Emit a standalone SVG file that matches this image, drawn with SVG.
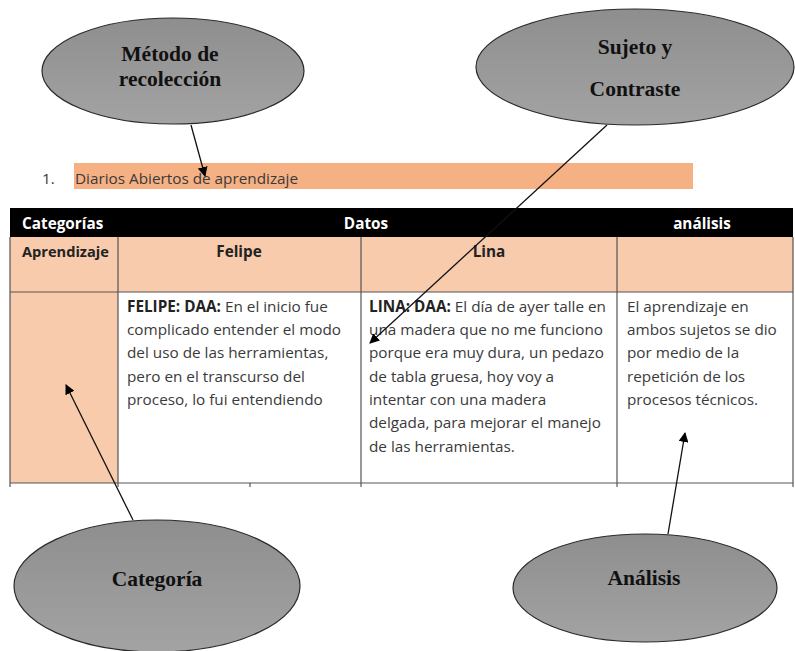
<svg xmlns="http://www.w3.org/2000/svg" width="795" height="651" viewBox="0 0 795 651">
<defs>
<linearGradient id="gray" x1="0" y1="0" x2="0" y2="1">
<stop offset="0" stop-color="#8e8e8e"/>
<stop offset="1" stop-color="#a3a3a3"/>
</linearGradient>
<marker id="ah" markerWidth="10" markerHeight="10" refX="9" refY="5" orient="auto" markerUnits="userSpaceOnUse">
<path d="M0,0 L10,5 L0,10 z" fill="#000"/>
</marker>
</defs>
<style>
.ell{fill:url(#gray);stroke:#2a2a2a;stroke-width:1.2}
.et{font-family:"Liberation Serif","Times New Roman",serif;font-weight:bold;font-size:21.5px;fill:#111;text-anchor:middle}
.t{font-family:"Open Sans","Noto Sans",sans-serif;font-size:15.3px;fill:#3a3a3a}
.b{font-weight:bold;fill:#222}
.hd{font-family:"Open Sans","Noto Sans",sans-serif;font-size:15.3px;font-weight:bold;fill:#fff}
.cell{fill:#f8cbad}
.grid{stroke:#555;stroke-width:1.2;fill:none}
.conn{stroke:#111;stroke-width:1.3;fill:none;marker-end:url(#ah)}
</style>
<rect width="795" height="651" fill="#fff"/>

<g id="bar">
<rect x="74" y="163" width="619" height="26" fill="#f5b184"/>
<text class="t" x="42" y="184">1.</text>
<text class="t" x="75" y="184">Diarios Abiertos de aprendizaje</text>
</g>

<g id="table">
<rect x="10" y="208" width="783" height="29" fill="#000"/>
<rect class="cell" x="10" y="237" width="783" height="55"/>
<rect class="cell" x="10" y="292" width="108" height="191"/>
<text class="hd" x="22" y="229">Categorías</text>
<text class="hd" x="366" y="229" text-anchor="middle">Datos</text>
<text class="hd" x="702" y="229" text-anchor="middle">análisis</text>
<text class="t b" x="22" y="257" style="font-size:14.6px">Aprendizaje</text>
<text class="t b" x="239" y="257" text-anchor="middle">Felipe</text>
<text class="t b" x="489" y="257" text-anchor="middle">Lina</text>
<path class="grid" d="M10,237 V487 M118,237 V487 M361,237 V487 M617,237 V487 M793,237 V487 M10,292 H793 M10,483 H793 M250,483 V487"/>
<g class="t">
<text x="127" y="312"><tspan class="b">FELIPE: DAA:</tspan> En el inicio fue</text>
<text x="127" y="335">complicado entender el modo</text>
<text x="127" y="358">del uso de las herramientas,</text>
<text x="127" y="382">pero en el transcurso del</text>
<text x="127" y="405">proceso, lo fui entendiendo</text>
<text x="369" y="312"><tspan class="b">LINA: DAA:</tspan> El día de ayer talle en</text>
<text x="369" y="335">una madera que no me funciono</text>
<text x="369" y="358">porque era muy dura, un pedazo</text>
<text x="369" y="382">de tabla gruesa, hoy voy a</text>
<text x="369" y="405">intentar con una madera</text>
<text x="369" y="428">delgada, para mejorar el manejo</text>
<text x="369" y="452">de las herramientas.</text>
<text x="627" y="312">El aprendizaje en</text>
<text x="627" y="335">ambos sujetos se dio</text>
<text x="627" y="358">por medio de la</text>
<text x="627" y="382">repetición de los</text>
<text x="627" y="405">procesos técnicos.</text>
</g>
</g>

<g id="connectors">
<line class="conn" x1="191" y1="125" x2="205" y2="176"/>
<line class="conn" x1="607" y1="125" x2="370" y2="343"/>
<line class="conn" x1="133" y1="520" x2="66" y2="385"/>
<line class="conn" x1="668" y1="534" x2="685" y2="433"/>
</g>

<g id="metodo">
<ellipse class="ell" cx="173" cy="71" rx="131" ry="53"/>
<text class="et" x="170" y="61">Método de</text>
<text class="et" x="170" y="86">recolección</text>
</g>

<g id="sujeto">
<ellipse class="ell" cx="635" cy="67" rx="159" ry="58"/>
<text class="et" x="635" y="54">Sujeto y</text>
<text class="et" x="635" y="96">Contraste</text>
</g>

<g id="categoria">
<ellipse class="ell" cx="157" cy="586" rx="143" ry="66"/>
<text class="et" x="157" y="586">Categoría</text>
</g>

<g id="analisis">
<ellipse class="ell" cx="645" cy="588" rx="132" ry="54"/>
<text class="et" x="644" y="585">Análisis</text>
</g>
</svg>
